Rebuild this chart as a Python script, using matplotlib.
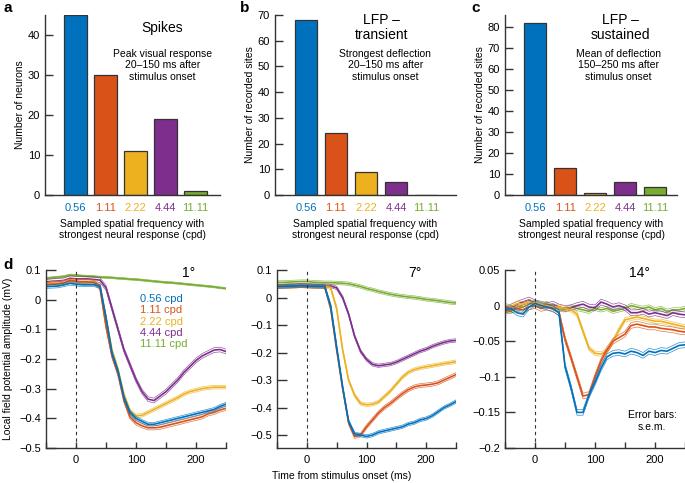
import numpy as np
import matplotlib
matplotlib.use('Agg')
import matplotlib.pyplot as plt

plt.rcParams['font.family'] = ['Liberation Sans', 'DejaVu Sans']
plt.rcParams['axes.unicode_minus'] = True

# ---- data ----
freq_labels = ['0.56', '1.11', '2.22', '4.44', '11.11']
cpd_labels = ['0.56 cpd', '1.11 cpd', '2.22 cpd', '4.44 cpd', '11.11 cpd']
colors = ['#0072BD', '#D95319', '#EDB120', '#7E2F8E', '#77AC30']

spikes_counts = [45, 30, 11, 19, 1]
lfp_transient_counts = [68, 24, 9, 5, 0]
lfp_sustained_counts = [82, 13, 1, 6, 4]

t_ms = [-50, -40, -30, -20, -10, 0, 10, 20, 30, 40, 50, 60, 70, 80, 90, 100,
        110, 120, 130, 140, 150, 160, 170, 180, 190, 200, 210, 220, 230, 240, 250]

# 1 deg
d1_056 = [0.044, 0.045, 0.046, 0.050, 0.055, 0.052, 0.050, 0.050, 0.050, 0.045, -0.06, -0.18,
          -0.24, -0.33, -0.38, -0.40, -0.41, -0.42, -0.42, -0.415, -0.41, -0.405, -0.40,
          -0.395, -0.39, -0.385, -0.38, -0.375, -0.37, -0.36, -0.352]
d1_111 = [0.050, 0.052, 0.053, 0.056, 0.066, 0.062, 0.060, 0.060, 0.058, 0.040, -0.09, -0.19,
          -0.25, -0.34, -0.395, -0.415, -0.425, -0.432, -0.432, -0.43, -0.425, -0.42, -0.415,
          -0.41, -0.405, -0.40, -0.395, -0.385, -0.38, -0.372, -0.366]
d1_222 = [0.052, 0.055, 0.056, 0.058, 0.063, 0.062, 0.060, 0.060, 0.060, 0.050, -0.06, -0.17,
          -0.235, -0.32, -0.375, -0.392, -0.39, -0.38, -0.37, -0.36, -0.35, -0.34, -0.33,
          -0.318, -0.31, -0.305, -0.30, -0.297, -0.295, -0.295, -0.295]
d1_444 = [0.060, 0.062, 0.063, 0.065, 0.072, 0.070, 0.070, 0.070, 0.068, 0.066, 0.04, -0.03,
          -0.10, -0.17, -0.22, -0.27, -0.31, -0.335, -0.34, -0.325, -0.31, -0.29, -0.27,
          -0.245, -0.225, -0.205, -0.19, -0.18, -0.17, -0.168, -0.175]
d1_1111 = [0.072, 0.074, 0.076, 0.078, 0.083, 0.082, 0.080, 0.079, 0.078, 0.076, 0.075, 0.074,
           0.072, 0.071, 0.069, 0.068, 0.066, 0.064, 0.062, 0.060, 0.058, 0.057, 0.055,
           0.053, 0.051, 0.049, 0.047, 0.045, 0.043, 0.040, 0.038]

# 7 deg
d2_056 = [0.040, 0.040, 0.041, 0.042, 0.043, 0.042, 0.041, 0.041, 0.040, -0.03, -0.18, -0.325,
          -0.45, -0.495, -0.50, -0.505, -0.50, -0.49, -0.485, -0.48, -0.475, -0.47, -0.46,
          -0.455, -0.445, -0.44, -0.43, -0.415, -0.40, -0.39, -0.378]
d2_111 = [0.040, 0.041, 0.041, 0.042, 0.043, 0.042, 0.041, 0.040, 0.040, -0.04, -0.19, -0.33,
          -0.455, -0.505, -0.50, -0.47, -0.445, -0.42, -0.40, -0.385, -0.367, -0.35, -0.335,
          -0.325, -0.32, -0.318, -0.315, -0.31, -0.30, -0.29, -0.28]
d2_222 = [0.038, 0.039, 0.040, 0.040, 0.042, 0.041, 0.040, 0.040, 0.040, 0.035, -0.04, -0.19,
          -0.30, -0.355, -0.385, -0.39, -0.388, -0.38, -0.36, -0.34, -0.315, -0.29, -0.272,
          -0.262, -0.256, -0.252, -0.248, -0.244, -0.24, -0.237, -0.233]
d2_444 = [0.042, 0.042, 0.043, 0.043, 0.045, 0.044, 0.043, 0.043, 0.043, 0.042, 0.035, 0.0,
          -0.06, -0.14, -0.195, -0.225, -0.243, -0.248, -0.245, -0.242, -0.235, -0.225, -0.215,
          -0.205, -0.195, -0.188, -0.178, -0.17, -0.163, -0.158, -0.156]
d2_1111 = [0.055, 0.055, 0.056, 0.057, 0.058, 0.058, 0.056, 0.055, 0.054, 0.054, 0.053, 0.052,
           0.050, 0.045, 0.040, 0.033, 0.028, 0.022, 0.017, 0.012, 0.008, 0.005, 0.002,
           0.0, -0.003, -0.007, -0.009, -0.012, -0.015, -0.018, -0.02]

# 14 deg
d3_056 = [-0.006, -0.004, -0.01, -0.012, -0.002, 0.003, 0.0, -0.002, -0.004, -0.01, -0.085,
          -0.115, -0.15, -0.15, -0.126, -0.108, -0.088, -0.072, -0.067, -0.066, -0.068, -0.064,
          -0.066, -0.07, -0.064, -0.066, -0.063, -0.064, -0.06, -0.056, -0.055]
d3_111 = [-0.008, -0.006, -0.004, -0.006, -0.002, 0.0, -0.004, -0.002, -0.005, -0.01, -0.047,
          -0.073, -0.10, -0.127, -0.125, -0.10, -0.078, -0.062, -0.05, -0.045, -0.04, -0.028,
          -0.026, -0.028, -0.03, -0.03, -0.032, -0.033, -0.034, -0.036, -0.037]
d3_222 = [0.0, -0.002, 0.003, 0.002, 0.005, 0.004, 0.002, 0.0, -0.002, -0.002, -0.004, -0.006,
          -0.012, -0.036, -0.06, -0.067, -0.068, -0.064, -0.05, -0.034, -0.02, -0.018, -0.016,
          -0.018, -0.02, -0.022, -0.022, -0.024, -0.026, -0.028, -0.03]
d3_444 = [-0.004, -0.002, 0.002, 0.005, 0.008, 0.004, 0.002, 0.0, 0.002, -0.002, -0.004, -0.003,
          0.0, 0.002, -0.002, -0.003, 0.005, 0.002, -0.002, 0.0, -0.003, -0.01, -0.01, -0.008,
          -0.012, -0.01, -0.012, -0.014, -0.01, -0.012, -0.013]
d3_1111 = [-0.006, -0.008, -0.004, -0.002, 0.002, 0.004, 0.0, 0.003, -0.002, -0.005, -0.006,
           -0.002, -0.004, -0.006, -0.008, -0.004, -0.006, -0.004, -0.008, -0.006, -0.004, 0.0,
           -0.002, -0.004, -0.002, -0.006, -0.004, -0.008, -0.006, -0.006, -0.004]

d1_sem = [0.006, 0.007, 0.006, 0.008, 0.003]
d2_sem = [0.006, 0.007, 0.006, 0.006, 0.006]
d3_sem = [0.004, 0.004, 0.003, 0.004, 0.003]

fig = plt.figure(figsize=(6.85, 4.83), dpi=100)
W, H = 685.0, 483.0


def add_ax(left, top, right, bottom):
    return fig.add_axes([left / W, 1 - bottom / H, (right - left) / W, (bottom - top) / H])


def style(ax):
    for s in ['top', 'right']:
        ax.spines[s].set_visible(False)
    for s in ['left', 'bottom']:
        ax.spines[s].set_linewidth(1.0)
        ax.spines[s].set_color('#333333')
    ax.tick_params(direction='in', labelsize=8, width=1.0, color='#333333', length=6)


# ---- bar panels ----
bar_panels = [
    (45, 220, spikes_counts, (-1.02, 4.82), (0, 45), [0, 10, 20, 30, 40], 'Number of neurons',
     'Spikes', 0.67, 'Peak visual response\n20\u2013150 ms after\nstimulus onset', 0.67, 'a', 3),
    (275, 456, lfp_transient_counts, (-1.03, 5.0), (0, 70), [0, 10, 20, 30, 40, 50, 60, 70],
     'Number of recorded sites', 'LFP \u2013\ntransient', 0.59,
     'Strongest deflection\n20\u2013150 ms after\nstimulus onset', 0.61, 'b', 240),
    (505, 677, lfp_sustained_counts, (-1.0, 4.73), (0, 85.7), [0, 10, 20, 30, 40, 50, 60, 70, 80],
     'Number of recorded sites', 'LFP \u2013\nsustained', 0.67,
     'Mean of deflection\n150\u2013250 ms after\nstimulus onset', 0.66, 'c', 471),
]

for left, right, counts, xl, yl, yt, ylab, title, tx, sub, sx, letter, lx in bar_panels:
    ax = add_ax(left, 15, right, 195)
    style(ax)
    x = np.arange(len(counts))
    ax.bar(x, counts, width=0.76, color=colors, edgecolor='#333333', linewidth=0.9)
    ax.set_xlim(*xl)
    ax.set_ylim(*yl)
    ax.set_yticks(yt)
    ax.set_xticks(x)
    ax.set_xticklabels(freq_labels)
    for lab, c in zip(ax.get_xticklabels(), colors):
        lab.set_color(c)
    ax.tick_params(axis='x', length=0, pad=6)
    ax.set_ylabel(ylab, fontsize=7.5, labelpad=2)
    ax.set_xlabel('Sampled spatial frequency with\nstrongest neural response (cpd)',
                  fontsize=7.5, labelpad=4)
    ax.text(tx, 0.93, title, transform=ax.transAxes, ha='center', va='center',
            fontsize=10, linespacing=1.1)
    ax.text(sx, 0.72, sub, transform=ax.transAxes, ha='center', va='center',
            fontsize=7.5, linespacing=1.15)
    fig.text(lx / W, 1 - 8 / H, letter, fontsize=11, fontweight='bold', ha='left', va='center')

# ---- LFP time course panels ----
line_panels = [
    (46, 226, [d1_056, d1_111, d1_222, d1_444, d1_1111], d1_sem, (-0.5, 0.1),
     [-0.5, -0.4, -0.3, -0.2, -0.1, 0, 0.1], ['\u22120.5', '\u22120.4', '\u22120.3', '\u22120.2', '\u22120.1', '0', '0.1'],
     '1\u00b0', 0.79),
    (277, 456, [d2_056, d2_111, d2_222, d2_444, d2_1111], d2_sem, (-0.547, 0.1),
     [-0.5, -0.4, -0.3, -0.2, -0.1, 0, 0.1], ['\u22120.5', '\u22120.4', '\u22120.3', '\u22120.2', '\u22120.1', '0', '0.1'],
     '7\u00b0', 0.77),
    (505, 685, [d3_056, d3_111, d3_222, d3_444, d3_1111], d3_sem, (-0.2, 0.05),
     [-0.2, -0.15, -0.1, -0.05, 0, 0.05], ['\u22120.2', '\u22120.15', '\u22120.1', '\u22120.05', '0', '0.05'],
     '14\u00b0', 0.75),
]

axes_d = []
for left, right, series, sems, yl, yt, ytl, deg, dx in line_panels:
    ax = add_ax(left, 270, right, 448)
    style(ax)
    # plot in reverse so blue/orange are on top like the reference
    for y, s, c in list(zip(series, sems, colors))[::-1]:
        y = np.array(y)
        ax.plot(t_ms, y + s, color=c, lw=0.5, alpha=0.8)
        ax.plot(t_ms, y - s, color=c, lw=0.5, alpha=0.8)
        ax.plot(t_ms, y, color=c, lw=1.2)
    ax.axvline(0, color='#333333', lw=0.8, ls=(0, (3, 3)))
    ax.set_xlim(-50, 250)
    ax.set_ylim(*yl)
    ax.set_xticks([-50, 0, 50, 100, 150, 200, 250])
    ax.set_xticklabels(['', '0', '', '100', '', '200', ''])
    ax.tick_params(axis='x', length=4.0, pad=5)
    ax.tick_params(axis='y', length=7.0)
    ax.set_yticks(yt)
    ax.set_yticklabels(ytl)
    ax.text(dx, 0.985, deg, transform=ax.transAxes, ha='center', va='center', fontsize=10)
    axes_d.append(ax)

# legend as coloured text in the 1 deg panel
for i, (lab, c) in enumerate(zip(cpd_labels, colors)):
    fig.text(140 / W, 1 - (299 + i * 11.3) / H, lab, color=c, fontsize=8, ha='left', va='center')

fig.text(652 / W, 1 - 421 / H, 'Error bars:\ns.e.m.', fontsize=7.5, ha='center', va='center',
         linespacing=1.3)
fig.text(3 / W, 1 - 265 / H, 'd', fontsize=11, fontweight='bold', ha='left', va='center')
fig.text(8 / W, 1 - 359 / H, 'Local field potential amplitude (mV)', rotation=90,
         fontsize=7.5, ha='center', va='center')
fig.text(342 / W, 1 - 476 / H, 'Time from stimulus onset (ms)', fontsize=7.5,
         ha='center', va='center')

fig.savefig('out.png', dpi=100)
